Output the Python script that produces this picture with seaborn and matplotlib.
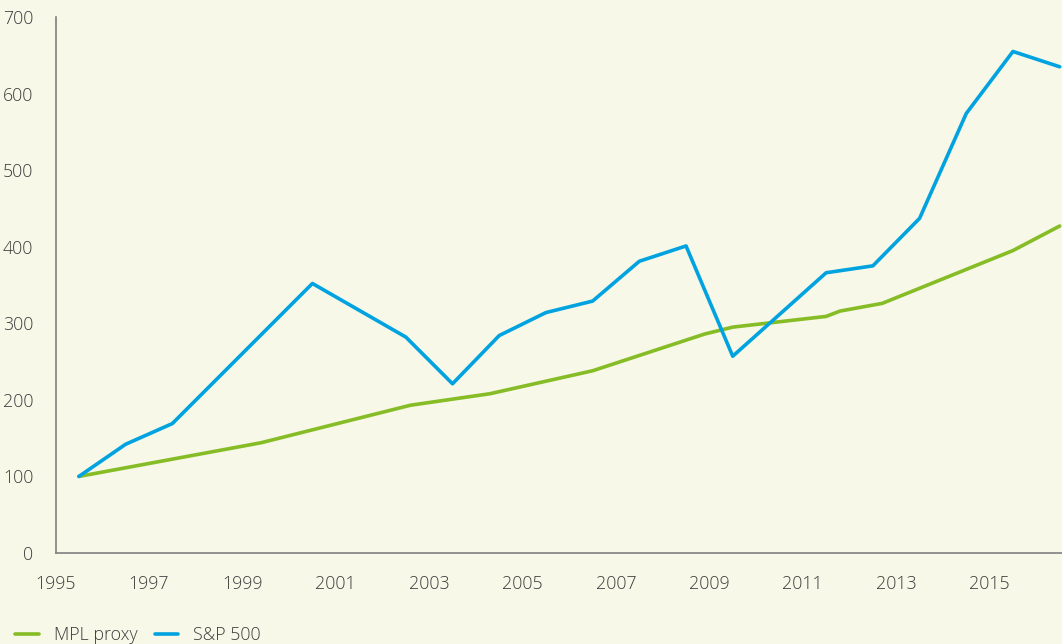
import matplotlib
matplotlib.use("Agg")
import matplotlib.pyplot as plt
import seaborn as sns
import pandas as pd

# values
sp_years = [1995.5, 1996.5, 1997.5, 2000.5, 2002.5, 2003.5, 2004.5, 2005.5, 2006.5,
            2007.5, 2008.5, 2009.5, 2011.5, 2012.5, 2013.5, 2014.5, 2015.5, 2016.5]
sp_values = [100, 142, 169, 352, 282, 221, 284, 314, 329,
             381, 401, 257, 366, 375, 437, 574, 655, 635]

mpl_years = [1995.5, 1999.4, 2002.6, 2004.3, 2006.5, 2008.9, 2009.5, 2011.5, 2011.8,
             2012.7, 2015.5, 2016.5]
mpl_values = [100, 144, 193, 208, 238, 286, 295, 309, 316, 326, 395, 427]

x_ticks = list(range(1995, 2016, 2))
y_ticks = list(range(0, 701, 100))

df = pd.concat([
    pd.DataFrame({"year": mpl_years, "value": mpl_values, "series": "MPL proxy"}),
    pd.DataFrame({"year": sp_years, "value": sp_values, "series": "S&P 500"}),
])

bg = "#f7f8e8"
txt = "#3c3c3c"
sns.set_style("white")
plt.rcParams["font.family"] = ["Open Sans", "DejaVu Sans"]

fig = plt.figure(figsize=(10.62, 6.44), dpi=100, facecolor=bg)
ax = fig.add_axes([0.0523, 0.1413, 0.9477, 0.8323])
ax.set_facecolor(bg)

sns.lineplot(data=df, x="year", y="value", hue="series", sort=False,
             palette={"MPL proxy": "#86bc25", "S&P 500": "#00a3e0"},
             linewidth=2.6, ax=ax, legend=True)

ax.set_xlim(1995, 2016.55)
ax.set_ylim(0, 700)
ax.set_xticks(x_ticks)
ax.set_yticks(y_ticks)
ax.set_xlabel("")
ax.set_ylabel("")
ax.tick_params(axis="both", length=0, labelsize=12.8, colors=txt)
ax.tick_params(axis="y", pad=16)
ax.tick_params(axis="x", pad=16)
for lab in ax.get_xticklabels() + ax.get_yticklabels():
    lab.set_fontweight("light")

for s in ["top", "right"]:
    ax.spines[s].set_visible(False)
for s in ["left", "bottom"]:
    ax.spines[s].set_color("#808080")
    ax.spines[s].set_linewidth(1.2)

handles, labels = ax.get_legend_handles_labels()
ax.get_legend().remove()
leg = fig.legend(handles, labels, loc="lower left", bbox_to_anchor=(0.0095, -0.008),
                 ncol=2, frameon=False, fontsize=12.8, handlelength=1.3,
                 handletextpad=0.85, columnspacing=1.0, borderaxespad=0.0,
                 borderpad=0.3)
for t in leg.get_texts():
    t.set_color(txt)
    t.set_fontweight("light")
for h in leg.get_lines():
    h.set_linewidth(2.6)

fig.savefig("out.png", dpi=100, facecolor=bg)
